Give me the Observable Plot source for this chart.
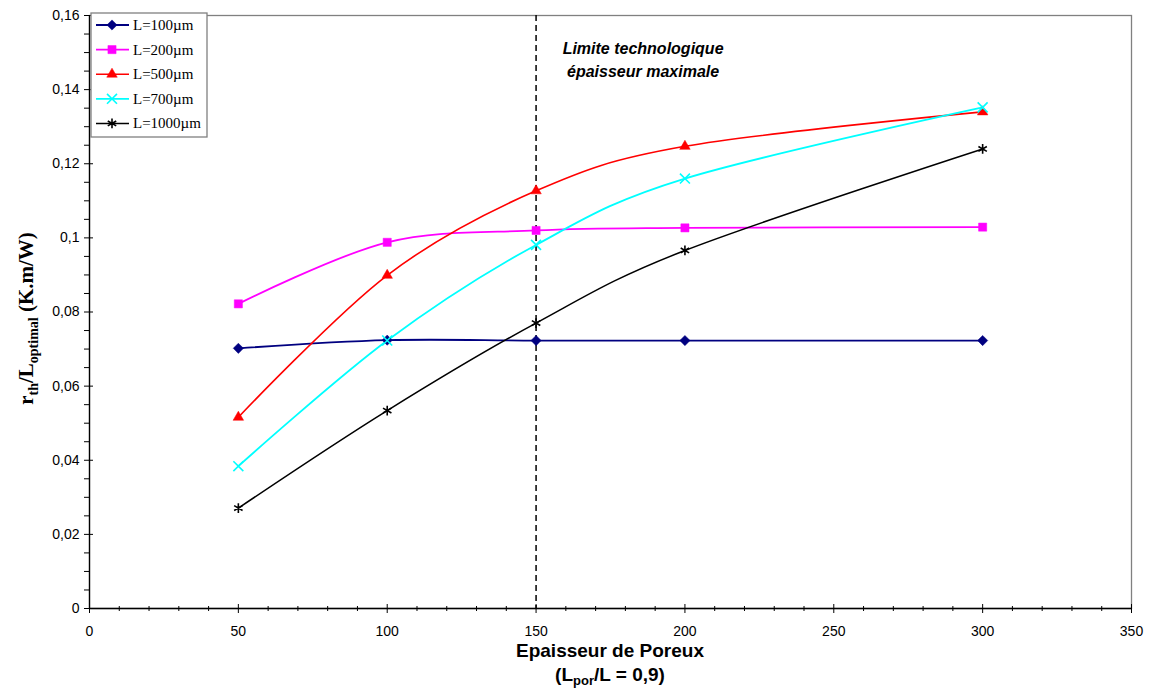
<!DOCTYPE html>
<html>
<head>
<meta charset="utf-8">
<script src="https://cdn.jsdelivr.net/npm/d3@7"></script>
<script src="https://cdn.jsdelivr.net/npm/@observablehq/plot@0.6"></script>
<style>
  html, body { margin: 0; padding: 0; background: #fff; }
  #chart svg { display: block; }
</style>
</head>
<body>
<div id="chart"></div>
<script>
// ---- data ----
const thickness = [50, 100, 150, 200, 300];
const seriesNames = ["L=100µm", "L=200µm", "L=500µm", "L=700µm", "L=1000µm"];
const L100  = [0.0702, 0.0724, 0.0723, 0.0723, 0.0723];
const L200  = [0.0822, 0.0988, 0.1020, 0.1027, 0.1029];
const L500  = [0.0516, 0.0899, 0.1127, 0.1247, 0.1340];
const L700  = [0.0384, 0.0723, 0.0981, 0.1160, 0.1352];
const L1000 = [0.0271, 0.0534, 0.0770, 0.0966, 0.1240];
const limit = 150;
const xTicks = [0, 50, 100, 150, 200, 250, 300, 350];
const yTicks = [0, 0.02, 0.04, 0.06, 0.08, 0.1, 0.12, 0.14, 0.16];
const annotation = "Limite technologique\népaisseur maximale";

// ---- styles ----
const colors = ["#000080", "#ff00ff", "#ff0000", "#00ffff", "#000000"];
const symbols = ["diamond2", "square", "triangle", "times", "asterisk"];
const filled = [true, true, true, false, false];
const sizes = [4.6, 4.6, 3.9, 4.6, 4.6];
const widths = [1.8, 1.8, 1.6, 1.8, 1.5];

const allSeries = [L100, L200, L500, L700, L1000];
const rows = [];
allSeries.forEach((vals, i) => vals.forEach((v, j) => rows.push({s: i, x: thickness[j], y: v})));

const xMinor = d3.range(0, 351, 10).filter(d => d % 50 !== 0);
const yMinor = d3.range(0, 33).map(d => d * 0.005).filter((d, i) => i % 4 !== 0);
const fmt = d => String(d).replace(".", ",");

const marks = [
  Plot.frame({stroke: "#808080", strokeWidth: 1.3}),
  Plot.ruleX([limit], {stroke: "#000", strokeWidth: 1.5, strokeDasharray: "6,4"}),
];
allSeries.forEach((vals, i) => {
  const data = rows.filter(r => r.s === i);
  marks.push(Plot.line(data, {x: "x", y: "y", curve: "cardinal", stroke: colors[i], strokeWidth: widths[i]}));
});
allSeries.forEach((vals, i) => {
  const data = rows.filter(r => r.s === i);
  marks.push(Plot.dot(data, {
    x: "x", y: "y", symbol: () => symbols[i], r: sizes[i],
    fill: filled[i] ? colors[i] : "none",
    stroke: colors[i], strokeWidth: filled[i] ? 0.5 : 1.6
  }));
});
marks.push(
  // axes
  Plot.axisX({ticks: xTicks, tickSize: 9, dy: -4, tickFormat: () => "", stroke: "#000"}),
  Plot.axisX({ticks: xMinor, tickSize: 5, dy: -2, tickFormat: () => "", stroke: "#000"}),
  Plot.axisX({ticks: xTicks, tickSize: 0, tickPadding: 18, tickFormat: d => String(d), fontSize: 14, fill: "#000"}),
  Plot.axisY({ticks: yTicks, tickSize: 9, dx: 4, tickFormat: () => "", stroke: "#000"}),
  Plot.axisY({ticks: yMinor, tickSize: 5, dx: 0, tickFormat: () => "", stroke: "#000"}),
  Plot.axisY({ticks: yTicks, tickSize: 0, tickPadding: 10, tickFormat: fmt, fontSize: 14, fill: "#000"}),
  Plot.ruleX([0], {stroke: "#000", strokeWidth: 1.3}),
  Plot.ruleY([0], {stroke: "#000", strokeWidth: 1.3}),
  Plot.text([annotation], {
    x: limit, y: yTicks[yTicks.length - 1], text: d => d, dx: 107, dy: 23,
    lineAnchor: "top", lineHeight: 1.4, fontSize: 16, fontWeight: "bold", fontStyle: "italic",
    fill: "#000", textAnchor: "middle"
  })
);

const chart = Plot.plot({
  width: 1152,
  height: 691,
  marginLeft: 89,
  marginRight: 21,
  marginTop: 15,
  marginBottom: 83,
  style: {fontFamily: "'Liberation Sans', Arial, sans-serif", background: "#fff", color: "#000"},
  x: {domain: [0, 350], label: null, axis: null},
  y: {domain: [0, 0.16], label: null, axis: null},
  marks
});
document.getElementById("chart").appendChild(chart);

// ---- titles & legend ----
const svg = d3.select(chart);
const xs = chart.scale("x"), ys = chart.scale("y");
const cx = (xs.apply(0) + xs.apply(350)) / 2;
const cy = (ys.apply(0) + ys.apply(0.16)) / 2;

const xl = svg.append("g").attr("font-family", "'Liberation Sans', Arial, sans-serif")
  .attr("font-weight", "bold").attr("fill", "#000").attr("text-anchor", "middle");
xl.append("text").attr("x", cx).attr("y", 657).attr("font-size", 19).text("Epaisseur de Poreux");
const t2 = xl.append("text").attr("x", cx).attr("y", 681).attr("font-size", 19);
t2.append("tspan").text("(L");
t2.append("tspan").attr("font-size", 13).attr("dy", 4).text("por");
t2.append("tspan").attr("dy", -4).text("/L = 0,9)");

const yl = svg.append("text").attr("transform", `translate(33,${cy + 7}) rotate(-90)`)
  .attr("text-anchor", "middle").attr("font-family", "'Liberation Serif', 'Times New Roman', serif")
  .attr("font-weight", "bold").attr("font-size", 21).attr("fill", "#000");
yl.append("tspan").text("r");
yl.append("tspan").attr("font-size", 14).attr("dy", 5).text("th");
yl.append("tspan").attr("dy", -5).text("/L");
yl.append("tspan").attr("font-size", 14).attr("dy", 5).text("optimal");
yl.append("tspan").attr("dy", -5).text(" (K.m/W)");

const lg = svg.append("g").attr("transform", "translate(91,13)");
lg.append("rect").attr("width", 116).attr("height", 124).attr("fill", "#fff")
  .attr("stroke", "#808080").attr("stroke-width", 1.3);
const d3sym = {diamond2: d3.symbolDiamond2, square: d3.symbolSquare, triangle: d3.symbolTriangle, times: d3.symbolTimes, asterisk: d3.symbolAsterisk};
seriesNames.forEach((name, i) => {
  const yy = 12 + i * 24.6;
  const g = lg.append("g").attr("transform", `translate(0,${yy})`);
  g.append("line").attr("x1", 5).attr("x2", 38).attr("stroke", colors[i]).attr("stroke-width", widths[i]);
  g.append("path").attr("transform", "translate(21,0)")
    .attr("d", d3.symbol(d3sym[symbols[i]], Math.PI * sizes[i] * sizes[i])())
    .attr("fill", filled[i] ? colors[i] : "none").attr("stroke", colors[i])
    .attr("stroke-width", filled[i] ? 0.5 : 1.6);
  g.append("text").attr("x", 42).attr("y", 5).attr("text-anchor", "start")
    .attr("font-family", "'Liberation Serif', 'Times New Roman', serif")
    .attr("font-size", 15).attr("fill", "#000").text(name);
});
</script>
</body>
</html>
